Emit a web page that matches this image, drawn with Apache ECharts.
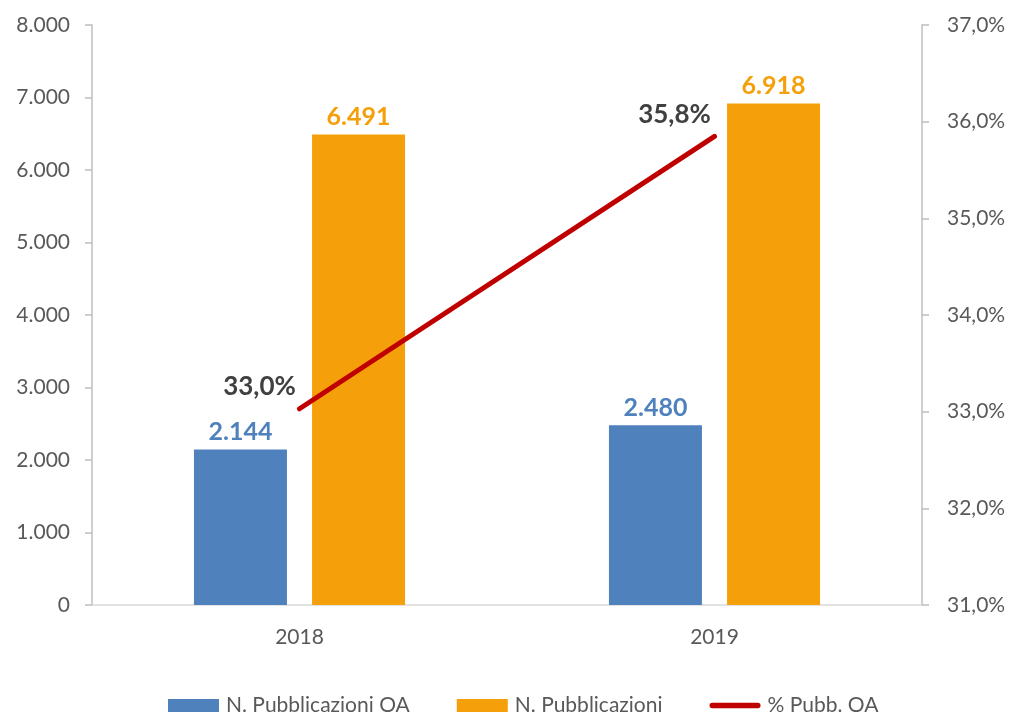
<!DOCTYPE html>
<html>
<head>
<meta charset="utf-8">
<script src="https://cdn.jsdelivr.net/npm/echarts@6/dist/echarts.min.js"></script>
<style>
  html, body { margin: 0; padding: 0; background: #fff; }
  #chart { width: 1010px; height: 712px; }
</style>
</head>
<body>
<div id="chart"></div>
<script>
const years = ['2018', '2019']
const pubOA = [2144, 2480]
const pubTot = [6491, 6918]
const pctOA = [33.03, 35.848]

const fmtNum = v => String(v).replace(/\B(?=(\d{3})+(?!\d))/g, '.')
const fmtPct = v => v.toFixed(1).replace('.', ',') + '%'

const chart = echarts.init(document.getElementById('chart'))

chart.setOption({
  animation: false,
  textStyle: { fontFamily: 'Lato' },
  grid: { left: 92, right: 88, top: 25, bottom: 107 },
  legend: {
    top: 690,
    left: 163,
    itemGap: 47,
    itemWidth: 51,
    itemHeight: 13,
    textStyle: { color: '#595959', fontSize: 21, fontFamily: 'Lato', padding: [0, 0, 0, 2] },
    data: [
      { name: 'N. Pubblicazioni OA', icon: 'rect' },
      { name: 'N. Pubblicazioni', icon: 'rect' },
      { name: '% Pubb. OA', icon: 'path://M3,0 L54,0 A3,3 0 0 1 54,6 L3,6 A3,3 0 0 1 3,0 Z', itemStyle: { color: '#c00000' } },
    ],
  },
  xAxis: {
    type: 'category',
    data: years,
    axisLine: { lineStyle: { color: '#d9d9d9', width: 1.5 } },
    axisTick: { show: false },
    axisLabel: { color: '#595959', fontSize: 21, margin: 22 },
  },
  yAxis: [
    {
      type: 'value',
      min: 0,
      max: 8000,
      interval: 1000,
      axisLine: { show: true, lineStyle: { color: '#bfbfbf', width: 1.5 } },
      axisTick: { show: true, length: 7, lineStyle: { color: '#bfbfbf', width: 1.5 } },
      splitLine: { show: false },
      axisLabel: { color: '#595959', fontSize: 21, margin: 22, formatter: fmtNum },
    },
    {
      type: 'value',
      min: 31,
      max: 37,
      interval: 1,
      axisLine: { show: true, lineStyle: { color: '#bfbfbf', width: 1.5 } },
      axisTick: { show: true, length: 7, lineStyle: { color: '#bfbfbf', width: 1.5 } },
      splitLine: { show: false },
      axisLabel: { color: '#595959', fontSize: 21, margin: 25, formatter: fmtPct },
    },
  ],
  series: [
    {
      name: 'N. Pubblicazioni OA',
      type: 'bar',
      data: pubOA,
      barWidth: 93,
      barGap: '27%',
      itemStyle: { color: '#4f81bd' },
      label: {
        show: true, position: 'top', distance: 5,
        color: '#4f81bd', fontSize: 25, fontWeight: 'bold',
        formatter: p => fmtNum(p.value),
      },
    },
    {
      name: 'N. Pubblicazioni',
      type: 'bar',
      data: pubTot,
      barWidth: 93,
      barGap: '27%',
      itemStyle: { color: '#f5a00a' },
      label: {
        show: true, position: 'top', distance: 5,
        color: '#f5a00a', fontSize: 25, fontWeight: 'bold',
        formatter: p => fmtNum(p.value),
      },
    },
    {
      name: '% Pubb. OA',
      type: 'line',
      yAxisIndex: 1,
      data: pctOA,
      symbol: 'circle',
      symbolSize: 0.1,
      lineStyle: { color: '#c00000', width: 5, cap: 'round' },
      itemStyle: { color: '#c00000' },
      label: {
        show: true, position: 'top', distance: 5, offset: [-40, -4],
        color: '#404040', fontSize: 26, fontWeight: 'bold',
        formatter: p => fmtPct(p.value),
      },
    },
  ],
})
</script>
</body>
</html>
